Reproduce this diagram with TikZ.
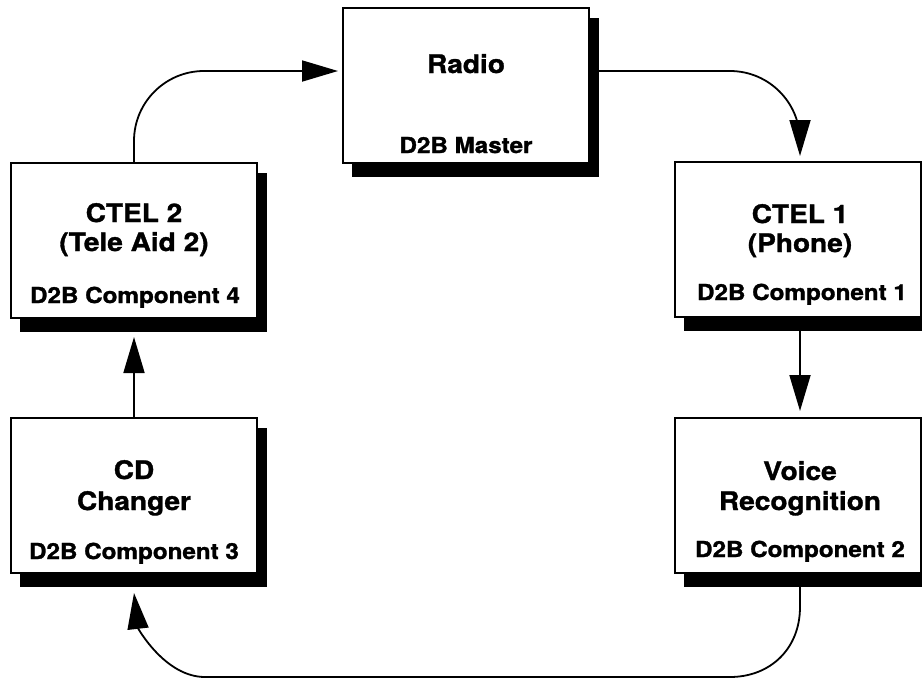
\documentclass[tikz,border=0pt]{standalone}
\usepackage{fontspec}
\newfontfamily\hv[FakeStretch=1.1, BoldFeatures={FakeBold=1.3}]{TeX Gyre Heros}
\usetikzlibrary{arrows.meta,calc}
\begin{document}
\begin{tikzpicture}[x=1pt,y=-1pt,
  box/.style={draw, line width=1.4pt, fill=white, minimum width=246pt, minimum height=155pt, inner sep=0pt, outer sep=0pt, anchor=north west},
  shade/.style={fill=black, minimum width=247pt, minimum height=159pt, inner sep=0pt, outer sep=0pt, anchor=north west},
  ttl/.style={font=\hv\bfseries\fontsize{25.5}{30}\selectfont, anchor=base, inner sep=0pt},
  sub/.style={font=\hv\bfseries\fontsize{22}{24}\selectfont, anchor=base, inner sep=0pt},
  conn/.style={line width=1.8pt, -{Triangle[length=36pt,width=21pt]}}]
\fill[white] (0,0) rectangle (922,681);
\useasboundingbox (0,0) rectangle (922,681);
% shadows
\node[shade] (radioS) at (352,18) {};
\node[shade] (ctel1S) at (684,172) {};
\node[shade] (voiceS) at (684,428) {};
\node[shade] (ctel2S) at (20,173) {};
\node[shade] (cdS) at (20,428) {};
% boxes
\node[box] (radio) at (343,8) {};
\node[box] (ctel1) at (675,162) {};
\node[box] (voice) at (675,418) {};
\node[box] (ctel2) at (11,163) {};
\node[box] (cd) at (11,418) {};
% texts
\node[ttl] (radioT) at (466,73) {Radio};
\node[sub] (radioM) at (466,153) {D2B Master};
\node[ttl] (ctel1A) at (800,223) {CTEL 1};
\node[ttl] (ctel1B) at (800,252) {(Phone)};
\node[sub] (ctel1C) at (802,300) {D2B Component 1};
\node[ttl] (voiceA) at (800,480) {Voice};
\node[ttl] (voiceB) at (800,510) {Recognition};
\node[sub] (voiceC) at (800,557) {D2B Component 2};
\node[ttl] (cdA) at (134,479) {CD};
\node[ttl] (cdB) at (134,510) {Changer};
\node[sub] (cdC) at (134,559) {D2B Component 3};
\node[ttl] (ctel2A) at (134,222) {CTEL 2};
\node[ttl] (ctel2B) at (134,251) {(Tele Aid 2)};
\node[sub] (ctel2C) at (135,303) {D2B Component 4};
% connectors
\draw[conn, rounded corners=70pt] (ctel2.north) |- ($(radio.west)+(-5,-14.5)$);
\draw[conn, rounded corners=70pt] ($(radioS.east)+(0,-26.5)$) -| ($(ctel1.north)+(2,-6)$);
\draw[conn] ($(ctel1S.south)+(-7.5,0)$) -- ($(voice.north)+(2,-7)$);
\draw[conn] ($(voiceS.south)+(-7.5,0)$) -- ++(0,20)
  .. controls +(0,42) and +(40,0) .. ++(-70,70)
  -- ++(-525,0)
  .. controls +(-40,0) and +(4,35) .. ($(cdS.south)+(-9.5,6)$);
\draw[conn] (cd.north) -- ($(ctel2S.south)+(-9.5,5)$);
\end{tikzpicture}
\end{document}
